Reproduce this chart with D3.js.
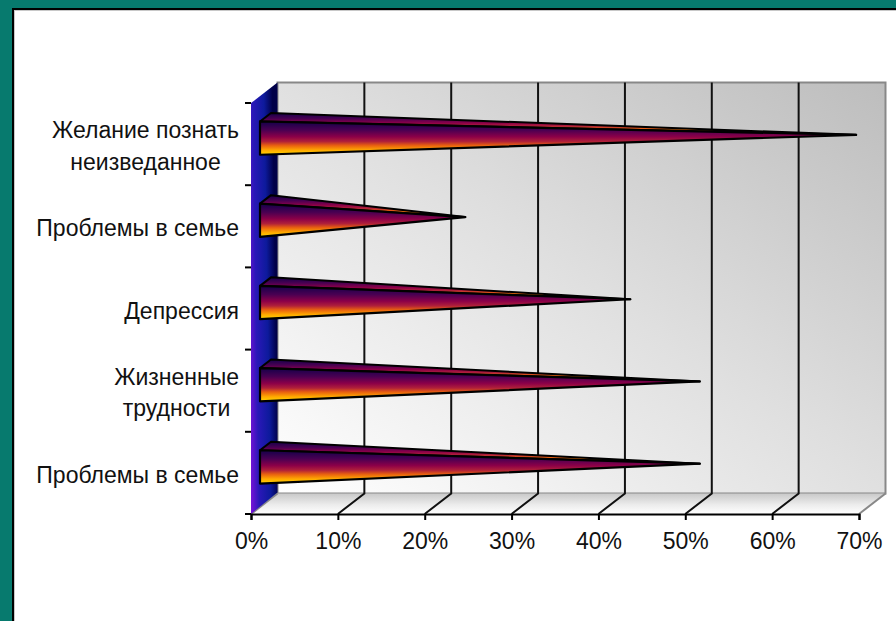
<!DOCTYPE html>
<html>
<head>
<meta charset="utf-8">
<script src="https://cdn.jsdelivr.net/npm/d3@7"></script>
<style>
html, body { margin: 0; padding: 0; background: #fff; }
svg { display: block; }
text { font-family: "Liberation Sans", Arial, sans-serif; fill: #111; }
</style>
</head>
<body>
<svg id="chart" width="896" height="621"></svg>
<script>
"use strict";

// data
const categories = [
    ["Желание познать", "неизведанное"],
    ["Проблемы в семье"],
    ["Депрессия"],
    ["Жизненные", "трудности"],
    ["Проблемы в семье"]
];
const values = [68, 23, 42, 50, 50];
const xTicks = [0, 10, 20, 30, 40, 50, 60, 70];

// consts
const width = 896, height = 621;
const plot = { left: 251, right: 859, top: 103, bottom: 514 };
const depth = { x: 26.5, y: -20.5 };
const bar = { offsetX: 9, offsetY: -6, depthX: 11, depthY: -8.5, tipY: 1, heightRatio: 0.405 };
const fontSize = 23;

const svg = d3.select("#chart");
const defs = svg.append("defs");

function gradient(id, x1, y1, x2, y2, stops) {
    const g = defs.append("linearGradient").attr("id", id)
        .attr("x1", x1).attr("y1", y1).attr("x2", x2).attr("y2", y2);
    stops.forEach(s => g.append("stop").attr("offset", s[0]).attr("stop-color", s[1]));
}

gradient("wallGrad", 0, 1, 1, 0, [[0, "#ffffff"], [0.5, "#e0e0e0"], [1, "#bdbdbd"]]);
gradient("floorGrad", 0, 0, 0, 1, [[0, "#c9c9c9"], [0.55, "#ececec"], [1, "#ffffff"]]);
gradient("sideGrad", 0, 1, 1, 0.72, [[0, "#7a12d8"], [0.3, "#2a18b8"], [0.7, "#0d1a9c"], [1, "#000048"]]);
gradient("barGrad", 0, 0, 0, 1, [
    [0, "#14004a"], [0.26, "#4a0052"], [0.46, "#8c0048"], [0.6, "#b0203a"],
    [0.72, "#e86010"], [0.86, "#ffa800"], [1, "#ffd800"]
]);

// background frame
svg.append("rect").attr("width", width).attr("height", height).attr("fill", "#077a6e");
svg.append("rect").attr("x", 12).attr("y", 8).attr("width", width - 12).attr("height", height - 8).attr("fill", "#000");
svg.append("rect").attr("x", 14).attr("y", 10).attr("width", width - 14).attr("height", height - 10).attr("fill", "#c8c8c8");
svg.append("rect").attr("x", 15).attr("y", 11).attr("width", width - 15).attr("height", height - 11).attr("fill", "#fff");

// scales
const scaleX = d3.scaleLinear().domain([0, 70]).range([plot.left, plot.right]);
const scaleY = d3.scaleBand().domain(d3.range(categories.length)).range([plot.top, plot.bottom]);
const poly = pts => pts.map(p => p.join(",")).join(" ");

// walls
const x0 = scaleX(0), x1 = scaleX(70);
svg.append("polygon").attr("fill", "url(#wallGrad)").attr("stroke", "#888").attr("stroke-width", 2)
    .attr("points", poly([[x0 + depth.x, plot.top + depth.y], [x1 + depth.x, plot.top + depth.y],
        [x1 + depth.x, plot.bottom + depth.y], [x0 + depth.x, plot.bottom + depth.y]]));
svg.append("polygon").attr("fill", "url(#floorGrad)")
    .attr("points", poly([[x0, plot.bottom], [x1, plot.bottom], [x1 + depth.x, plot.bottom + depth.y], [x0 + depth.x, plot.bottom + depth.y]]));
svg.append("line").attr("stroke", "#888").attr("stroke-width", 2)
    .attr("x1", x1).attr("y1", plot.bottom).attr("x2", x1 + depth.x).attr("y2", plot.bottom + depth.y);
svg.append("line").attr("stroke", "#888").attr("stroke-width", 2)
    .attr("x1", x0).attr("y1", plot.bottom).attr("x2", x0 + depth.x).attr("y2", plot.bottom + depth.y);
svg.append("polygon").attr("fill", "url(#sideGrad)")
    .attr("points", poly([[x0, plot.top], [x0 + depth.x, plot.top + depth.y], [x0 + depth.x, plot.bottom + depth.y - 1], [x0, plot.bottom]]));

// grid lines on wall and floor
const inner = xTicks.slice(1, -1);
svg.append("g").selectAll("path").data(inner).join("path")
    .attr("fill", "none").attr("stroke", "#111").attr("stroke-width", 2)
    .attr("d", d => `M${scaleX(d)},${plot.bottom}L${scaleX(d) + depth.x},${plot.bottom + depth.y}V${plot.top + depth.y}`);

// x axis
const axisX = svg.append("g").attr("class", "x_axis")
    .attr("transform", `translate(0, ${plot.bottom})`)
    .call(d3.axisBottom(scaleX).tickValues(xTicks).tickSize(6).tickPadding(13).tickFormat(d => d + "%"));
axisX.select("path").attr("stroke", "#000").attr("stroke-width", 2);
axisX.selectAll("line").attr("stroke", "#000").attr("stroke-width", 2);
axisX.selectAll("text").attr("font-size", fontSize).attr("font-family", "Liberation Sans");

// y axis ticks on band edges
const edges = d3.range(categories.length + 1).map(i => plot.top + i * scaleY.step());
svg.append("g").selectAll("line").data(edges).join("line")
    .attr("stroke", "#000").attr("stroke-width", 2)
    .attr("x1", plot.left - 6).attr("x2", plot.left).attr("y1", d => d).attr("y2", d => d);

// category labels
const labels = svg.append("g").attr("font-size", fontSize);
categories.forEach((lines, i) => {
    const cy = scaleY(i) + scaleY.bandwidth() / 2;
    const widths = lines.map(l => {
        const t = labels.append("text").text(l);
        const w = t.node().getComputedTextLength();
        t.remove();
        return w;
    });
    const blockCenter = 239 - d3.max(widths) / 2;
    lines.forEach((l, j) => {
        labels.append("text")
            .attr("x", blockCenter)
            .attr("y", cy + (j - (lines.length - 1) / 2) * 31.5 + 10)
            .attr("text-anchor", "middle")
            .text(l);
    });
});

// pyramids
const barGroups = svg.append("g").selectAll("g").data(values).join("g");
barGroups.each(function(v, i) {
    const g = d3.select(this);
    const h = scaleY.bandwidth() * bar.heightRatio;
    const cy = scaleY(i) + scaleY.bandwidth() / 2 + bar.offsetY;
    const left = scaleX(0) + bar.offsetX;
    const tip = [scaleX(v) + bar.offsetX + bar.depthX / 2, cy + bar.depthY / 2 + bar.tipY];
    const fTop = [left, cy - h / 2], fBot = [left, cy + h / 2];
    const bTop = [left + bar.depthX, cy - h / 2 + bar.depthY];
    g.append("polygon").attr("points", poly([fTop, bTop, tip]))
        .attr("fill", "url(#barGrad)").attr("stroke", "#000").attr("stroke-width", 2).attr("stroke-linejoin", "round");
    g.append("polygon").attr("points", poly([fTop, fBot, tip]))
        .attr("fill", "url(#barGrad)").attr("stroke", "#000").attr("stroke-width", 2.2).attr("stroke-linejoin", "round");
});
</script>
</body>
</html>
